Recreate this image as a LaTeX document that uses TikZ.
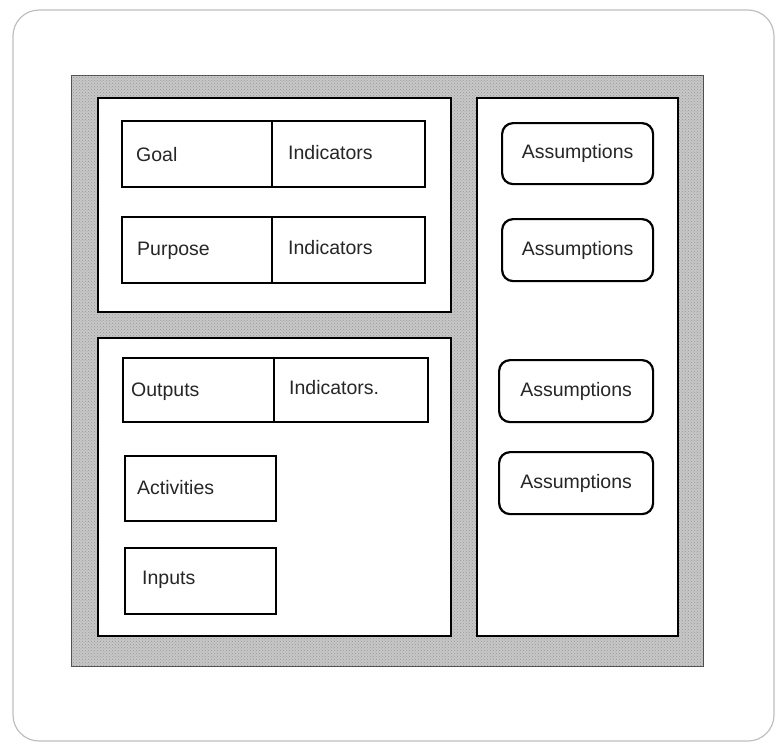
\documentclass[tikz,border=0pt]{standalone}
\usepackage{fontspec}
\setmainfont{Liberation Sans}
\usetikzlibrary{patterns}
\newcommand\mycell[8]{%
  \node[cellbox, minimum width={#4-#2}, minimum height={#5-#3}, anchor=north west] (#1) at (#2,#3) {};
  \node[celltext, anchor=west] (#1-t) at ([xshift=#6, yshift=#7]#1.west) {#8};}
\begin{document}
\begin{tikzpicture}[x=1pt,y=-1pt,
  frame/.style={draw=black!25, line width=1.2pt, rounded corners=26pt},
  graybg/.style={fill=black!22, draw=black!70, line width=1pt},
  panel/.style={fill=white, draw=black, line width=1.6pt},
  cellbox/.style={draw=black, line width=2.4pt, inner sep=0pt, fill=white},
  celltext/.style={inner sep=0pt, font=\fontsize{19.5}{22}\selectfont, text=black!85},
  assum/.style={draw=black, line width=2.2pt, rounded corners=11pt, inner sep=0pt, fill=white, font=\fontsize{19.5}{22}\selectfont, text=black!85, anchor=north west}]
\useasboundingbox (0,0) rectangle (780,745);
\draw[frame] (13,10) rectangle (774,741);
% textured grey frame
\path[graybg] (71,75) rectangle (703,666);
\path[pattern=crosshatch dots, pattern color=black!40] (71,75) rectangle (703,666);
% white panels
\draw[panel] (98,98) rectangle (451,312);
\draw[panel] (98,338) rectangle (451,636);
\draw[panel] (477,98) rectangle (678,636);
% left cells
\mycell{goal}{121}{120}{271}{186}{15pt}{0pt}{Goal}
\mycell{goalind}{271}{120}{424}{186}{17pt}{2pt}{Indicators}
\mycell{purp}{121}{216}{271}{282}{16pt}{-1pt}{Purpose}
\mycell{purpind}{271}{216}{424}{282}{17pt}{3pt}{Indicators}
\mycell{outp}{122}{357}{273}{421}{9pt}{-2pt}{Outputs}
\mycell{outpind}{273}{357}{427}{421}{16pt}{3pt}{Indicators.}
\mycell{act}{124}{455}{275}{520}{13pt}{1pt}{Activities}
\mycell{inp}{124}{547}{275}{613}{18pt}{1pt}{Inputs}
% assumptions
\node[assum, minimum width=151pt, minimum height=61pt] (as1) at (501,122) {Assumptions};
\node[assum, minimum width=151pt, minimum height=62pt] (as2) at (501,218) {Assumptions};
\node[assum, minimum width=154pt, minimum height=62pt] (as3) at (498,359) {Assumptions};
\node[assum, minimum width=154pt, minimum height=62pt] (as4) at (498,451) {Assumptions};
\end{tikzpicture}
\end{document}
